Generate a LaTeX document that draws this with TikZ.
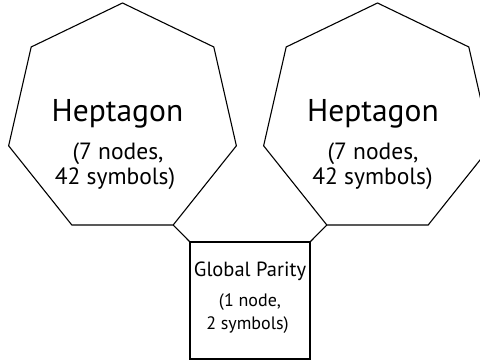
\documentclass[tikz,border=0pt]{standalone}
\usepackage{fontspec}
\setmainfont{PT Sans}
\usetikzlibrary{shapes.geometric}
\tikzset{
  hepta/.style={draw, line width=1.1pt, regular polygon, regular polygon sides=7,
    minimum size=233.6pt, inner sep=0pt, outer sep=0pt},
  parity/.style={draw, line width=1.1pt, rectangle, minimum width=120pt,
    minimum height=117pt, inner sep=0pt, outer sep=0pt},
  link/.style={line width=1.1pt},
  bigtxt/.style={anchor=base, inner sep=0pt, font=\fontsize{31.5}{31.5}\selectfont},
  midtxt/.style={anchor=base, inner sep=0pt, font=\fontsize{23.5}{23.5}\selectfont},
  boxtxt/.style={anchor=base, inner sep=0pt, font=\fontsize{20.5}{20.5}\selectfont},
  smalltxt/.style={anchor=base, inner sep=0pt, font=\fontsize{18}{18}\selectfont},
}
\begin{document}
\begin{tikzpicture}[x=1pt, y=-1pt]
  \useasboundingbox (0,0) rectangle (480,361);
  \clip (0,0) rectangle (480,361);

  % two heptagons and the global parity box
  \node[hepta] (hl) at (122.5,119.8) {};
  \node[hepta] (hr) at (377.5,119.8) {};
  \node[parity] (gp) at (250,300.5) {};

  % links from the lower corners of the heptagons to the box
  \draw[link] (hl.corner 5) -- (gp.north west);
  \draw[link] (hr.corner 4) -- (gp.north east);

  % labels
  \node[bigtxt] (hlt1) at (117.5,121.7) {Heptagon};
  \node[midtxt] (hlt2) at (118,160) {(7 nodes,};
  \node[midtxt] (hlt3) at (115,185) {42 symbols)};

  \node[bigtxt] (hrt1) at (373,121.7) {Heptagon};
  \node[midtxt] (hrt2) at (373,160) {(7 nodes,};
  \node[midtxt] (hrt3) at (372.5,185) {42 symbols)};

  \node[boxtxt] (gpt1) at (250,276) {Global Parity};
  \node[smalltxt] (gpt2) at (250,306) {(1 node,};
  \node[smalltxt] (gpt3) at (247.5,329.3) {2 symbols)};
\end{tikzpicture}
\end{document}
